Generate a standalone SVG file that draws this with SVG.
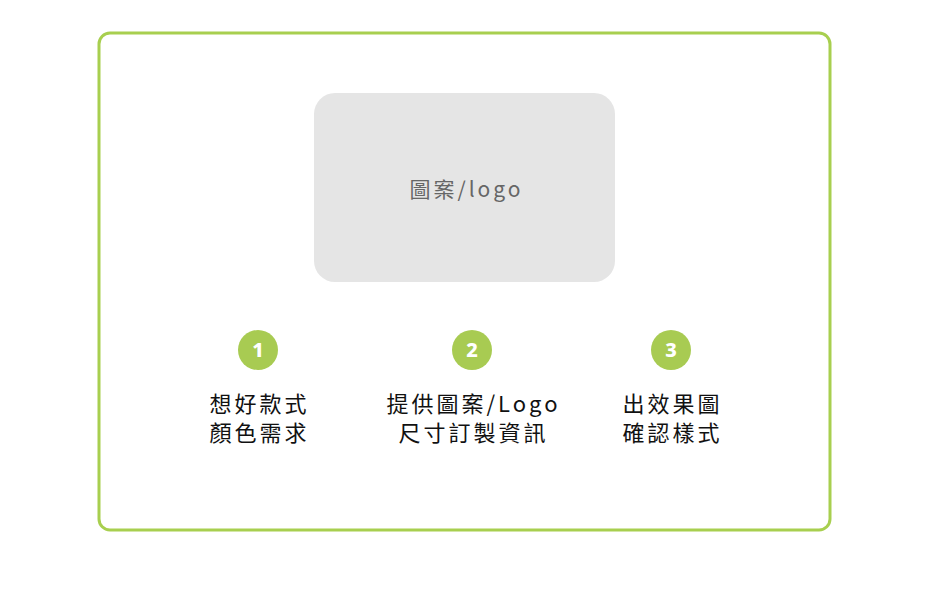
<svg xmlns="http://www.w3.org/2000/svg" width="930" height="600" viewBox="0 0 930 600">
<style>
.frame{fill:#fff;stroke:#a8cf4f;stroke-width:3}
.badge{fill:#a8cb52}
.num{font-family:"Noto Sans","DejaVu Sans",sans-serif;font-weight:800;font-size:20px;fill:#fff;text-anchor:middle}
.lbl{font-family:"Noto Sans CJK TC","Noto Sans",sans-serif;font-size:22px;fill:#111;text-anchor:middle;letter-spacing:3px}
.ph{font-family:"Noto Sans CJK TC","Noto Sans",sans-serif;font-size:21px;fill:#666;text-anchor:middle;letter-spacing:3px}
</style>
<rect width="930" height="600" fill="#fff"/>
<rect class="frame" x="99" y="33" width="731" height="497" rx="11"/>
<g id="placeholder">
<rect x="314" y="93" width="301" height="189" rx="21" fill="#e5e5e5"/>
<text class="ph" x="466.5" y="197">圖案/logo</text>
</g>
<g id="step1">
<circle class="badge" cx="258" cy="350" r="20"/>
<text class="num" x="258" y="357">1</text>
<text class="lbl" x="259.5" y="412">想好款式</text>
<text class="lbl" x="259.5" y="441">顏色需求</text>
</g>
<g id="step2">
<circle class="badge" cx="472" cy="350" r="20"/>
<text class="num" x="472" y="357">2</text>
<text class="lbl" x="473.5" y="412">提供圖案/Logo</text>
<text class="lbl" x="473.5" y="441">尺寸訂製資訊</text>
</g>
<g id="step3">
<circle class="badge" cx="671" cy="350" r="20"/>
<text class="num" x="671" y="357">3</text>
<text class="lbl" x="672.5" y="412">出效果圖</text>
<text class="lbl" x="672.5" y="441">確認樣式</text>
</g>
<g id="connectors"></g>
</svg>
